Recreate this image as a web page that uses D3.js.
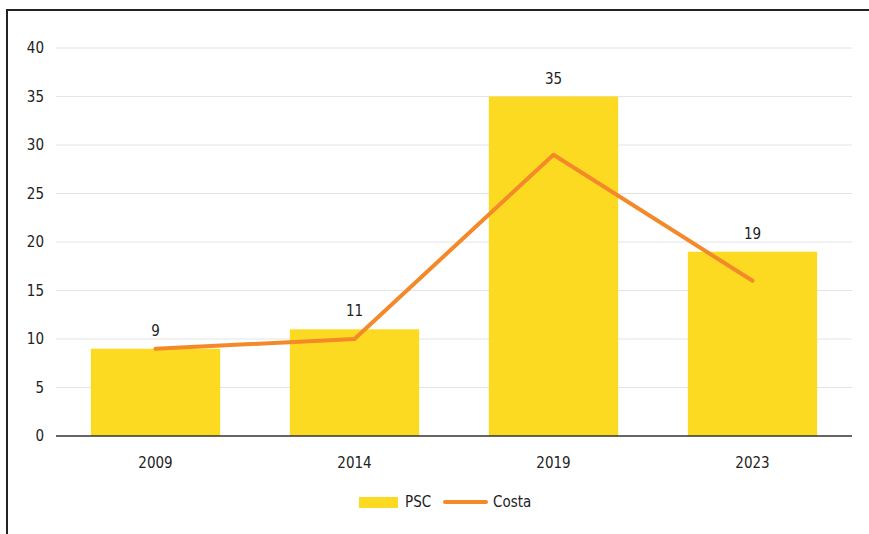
<!DOCTYPE html>
<html><head><meta charset="utf-8">
<script src="https://cdn.jsdelivr.net/npm/d3@7"></script>
<style>
html,body{margin:0;padding:0;background:#fff;}
svg text{font-family:"Liberation Sans Narrow","DejaVu Sans Condensed","Roboto Condensed",sans-serif;fill:#222;}
</style></head>
<body>
<svg id="c" width="869" height="534"></svg>
<script>
const categories = ["2009","2014","2019","2023"];
const psc = [9, 11, 35, 19];
const costa = [9, 10, 29, 16];
const yTicks = [0,5,10,15,20,25,30,35,40];

(function(){
const svg = d3.select("#c");
// border
svg.append("path").attr("d","M7,534 L7,10 L869,10").attr("fill","none").attr("stroke","#222").attr("stroke-width",2);

const pL=56, pR=852, pT=48, pB=436;
const x = d3.scaleBand().domain(categories).range([pL,pR]).paddingInner(0.35).paddingOuter(0.175);
const y = d3.scaleLinear().domain([0,40]).range([pB,pT]);

// grid
svg.append("g").selectAll("line").data(yTicks.filter(d=>d>0)).join("line")
  .attr("x1",pL).attr("x2",pR).attr("y1",d=>y(d)).attr("y2",d=>y(d))
  .attr("stroke","#e4e4e4").attr("stroke-width",1);

// y labels
svg.append("g").selectAll("text").data(yTicks).join("text")
  .attr("x",44).attr("y",d=>y(d)).attr("dy","0.35em").attr("text-anchor","end")
  .attr("font-size",15).text(d=>d);

// bars
svg.append("g").selectAll("rect").data(psc).join("rect")
  .attr("x",(d,i)=>x(categories[i])).attr("width",x.bandwidth())
  .attr("y",d=>y(d)).attr("height",d=>y(0)-y(d)).attr("fill","#FDDA22");

// bar labels
svg.append("g").selectAll("text").data(psc).join("text")
  .attr("x",(d,i)=>x(categories[i])+x.bandwidth()/2).attr("y",d=>y(d)-13)
  .attr("text-anchor","middle").attr("font-size",15).text(d=>d);

// axis line
svg.append("line").attr("x1",pL).attr("x2",pR).attr("y1",pB).attr("y2",pB)
  .attr("stroke","#333").attr("stroke-width",1.3);

// x labels
svg.append("g").selectAll("text").data(categories).join("text")
  .attr("x",d=>x(d)+x.bandwidth()/2).attr("y",468).attr("text-anchor","middle")
  .attr("font-size",15).text(d=>d);

// line
const line = d3.line().x((d,i)=>x(categories[i])+x.bandwidth()/2).y(d=>y(d));
svg.append("path").datum(costa).attr("d",line).attr("fill","none")
  .attr("stroke","#F4892A").attr("stroke-width",4).attr("stroke-linecap","round").attr("stroke-linejoin","round");

// legend
const lg = svg.append("g");
lg.append("rect").attr("x",359).attr("y",497).attr("width",39).attr("height",11).attr("fill","#FDDA22");
lg.append("text").attr("x",405).attr("y",502).attr("dy","0.35em").attr("font-size",15).text("PSC");
lg.append("line").attr("x1",445).attr("x2",486).attr("y1",502).attr("y2",502)
  .attr("stroke","#F4892A").attr("stroke-width",4).attr("stroke-linecap","round");
lg.append("text").attr("x",493).attr("y",502).attr("dy","0.35em").attr("font-size",15).text("Costa");
})();
</script>
</body></html>
